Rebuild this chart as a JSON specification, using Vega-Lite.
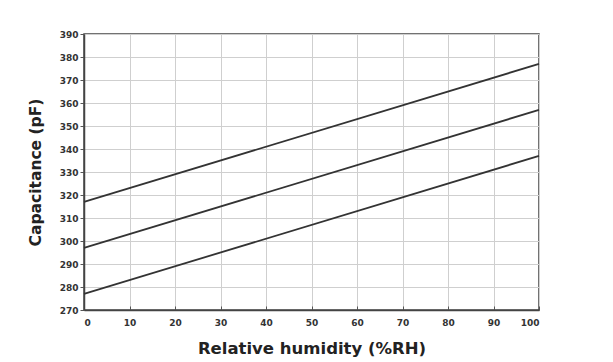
{
  "$schema": "https://vega.github.io/schema/vega-lite/v6.json",
  "autosize": "none",
  "width": 455,
  "height": 276,
  "padding": {"left": 84, "top": 34, "right": 74, "bottom": 52},
  "background": "white",
  "config": {
    "view": {"stroke": "#444", "strokeWidth": 1.5},
    "axis": {
      "labelFont": "DejaVu Sans",
      "labelFontWeight": "bold",
      "labelFontSize": 9,
      "labelColor": "#333",
      "titleFont": "DejaVu Sans",
      "titleFontWeight": "bold",
      "titleColor": "#222",
      "gridColor": "#cfcfcf",
      "gridWidth": 1,
      "domainColor": "#444",
      "domainWidth": 1.5,
      "tickColor": "#555",
      "tickWidth": 1
    }
  },
  "data": {
    "values": [
      {"rh": 0, "c": 317, "s": "a"},
      {"rh": 100, "c": 377, "s": "a"},
      {"rh": 0, "c": 297, "s": "b"},
      {"rh": 100, "c": 357, "s": "b"},
      {"rh": 0, "c": 277, "s": "c"},
      {"rh": 100, "c": 337, "s": "c"}
    ]
  },
  "mark": {"type": "line", "color": "#333", "strokeWidth": 1.8},
  "encoding": {
    "x": {
      "field": "rh", "type": "quantitative",
      "scale": {"domain": [0, 100], "nice": false},
      "axis": {"values": [0,10,20,30,40,50,60,70,80,90,100], "title": "Relative humidity (%RH)", "titleFontSize": 16.5, "titlePadding": 13, "tickSize": -4, "labelPadding": 12}
    },
    "y": {
      "field": "c", "type": "quantitative",
      "scale": {"domain": [270, 390], "nice": false, "zero": false},
      "axis": {"values": [270,280,290,300,310,320,330,340,350,360,370,380,390], "title": "Capacitance (pF)", "titleFontSize": 15.5, "titlePadding": 16, "tickSize": 4, "labelPadding": 2}
    },
    "detail": {"field": "s"}
  }
}
